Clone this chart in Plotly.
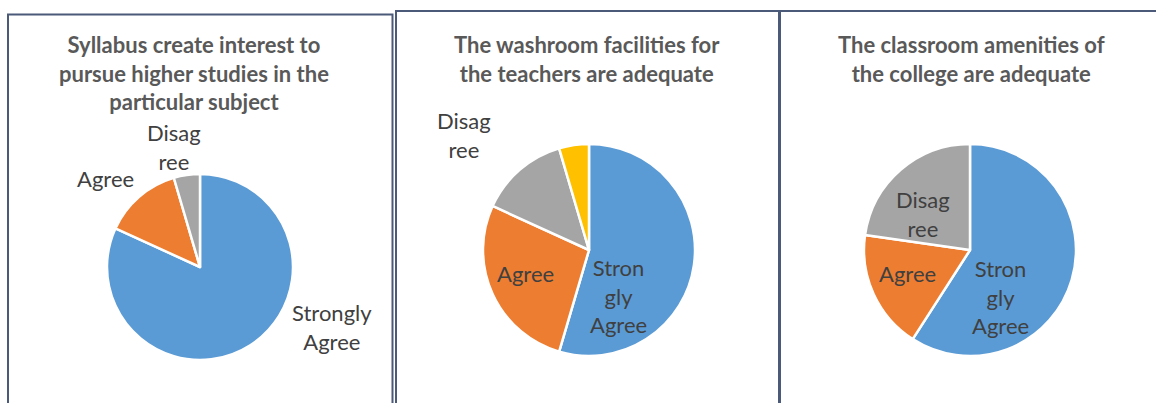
import plotly.graph_objects as go

W, H = 1156, 403

# ---- data ----
labels1 = ["Strongly Agree", "Agree", "Disagree"]
values1 = [18, 3, 1]
title1 = "Syllabus create interest to<br>pursue higher studies in the<br>particular subject"

labels2 = ["Strongly Agree", "Agree", "Disagree", "Strongly Disagree"]
values2 = [12, 6, 3, 1]
title2 = "The washroom facilities for<br>the teachers are adequate"

labels3 = ["Strongly Agree", "Agree", "Disagree"]
values3 = [13, 4, 5]
title3 = "The classroom amenities of<br>the college are adequate"

# how each label is wrapped in the picture
wrapped1 = ["Strongly<br>Agree", "Agree", "Disag<br>ree"]
wrapped2 = ["Stron<br>gly<br>Agree", "Agree", "Disag<br>ree", None]
wrapped3 = ["Stron<br>gly<br>Agree", "Agree", "Disag<br>ree"]

colors = ["#5B9BD5", "#ED7D31", "#A5A5A5", "#FFC000"]

# ---- layout / style ----
FONT = "Lato, Carlito, Calibri, sans-serif"
LABEL_FONT = dict(family=FONT, size=22, color="#404040")
TITLE_FONT = dict(family=FONT, size=22, color="#595959")

# label anchor positions (pixels from top-left), per panel, per slice
label_pos1 = [(332, 327), (105, 178), (174, 147)]
label_pos2 = [(618, 296), (525, 273), (464, 135), None]
label_pos3 = [(1000, 297), (907, 273), (923, 214)]


def dom(cx, cy, r):
    return dict(x=[(cx - r) / W, (cx + r) / W], y=[(H - cy - r) / H, (H - cy + r) / H])


fig = go.Figure()
for labels, values, d in [
    (labels1, values1, dom(200, 267, 93)),
    (labels2, values2, dom(589, 250, 106)),
    (labels3, values3, dom(970, 250, 106)),
]:
    fig.add_trace(go.Pie(
        labels=labels, values=values, sort=False, direction="clockwise", rotation=0,
        textinfo="none",
        marker=dict(colors=colors[:len(values)], line=dict(color="white", width=2.5)),
        domain=d, showlegend=False, hoverinfo="label+value+percent",
    ))

annotations = []
for t, cx in [(title1, 194), (title2, 587), (title3, 971)]:
    annotations.append(dict(
        text="<b>" + t.replace("<br>", "</b><br><b>") + "</b>",
        x=cx, y=29, xref="x", yref="y",
        xanchor="center", yanchor="top", showarrow=False,
        font=TITLE_FONT, align="center",
    ))

for wrapped, pos in [(wrapped1, label_pos1), (wrapped2, label_pos2), (wrapped3, label_pos3)]:
    for txt, p in zip(wrapped, pos):
        if txt is None or p is None:
            continue
        annotations.append(dict(
            text=txt, x=p[0], y=p[1], xref="x", yref="y",
            xanchor="center", yanchor="middle", showarrow=False,
            font=LABEL_FONT, align="center",
        ))

BORDER = "#4A5A78"
shapes = [
    dict(type="path", path=f"M 8 {H+5} L 8 14.5 L 392.5 14.5 L 392.5 {H+5}",
         xref="x", yref="y", line=dict(color=BORDER, width=2)),
    dict(type="path", path=f"M 396 {H+5} L 396 11 L 779.5 11 L 779.5 {H+5}",
         xref="x", yref="y", line=dict(color=BORDER, width=2)),
    dict(type="line", x0=779.5, x1=779.5, y0=11, y1=H + 5,
         xref="x", yref="y", line=dict(color=BORDER, width=3)),
    dict(type="line", x0=779.5, x1=W + 5, y0=11, y1=11,
         xref="x", yref="y", line=dict(color=BORDER, width=2)),
]

fig.update_layout(
    width=W, height=H,
    margin=dict(l=0, r=0, t=0, b=0),
    paper_bgcolor="white", plot_bgcolor="rgba(0,0,0,0)",
    annotations=annotations, shapes=shapes,
    xaxis=dict(range=[0, W], visible=False, fixedrange=True),
    yaxis=dict(range=[H, 0], visible=False, fixedrange=True),
)

fig.write_html(
    "out.html",
    config={"displayModeBar": False},
    post_script="document.body.style.margin='0';document.body.style.overflow='hidden';",
)
